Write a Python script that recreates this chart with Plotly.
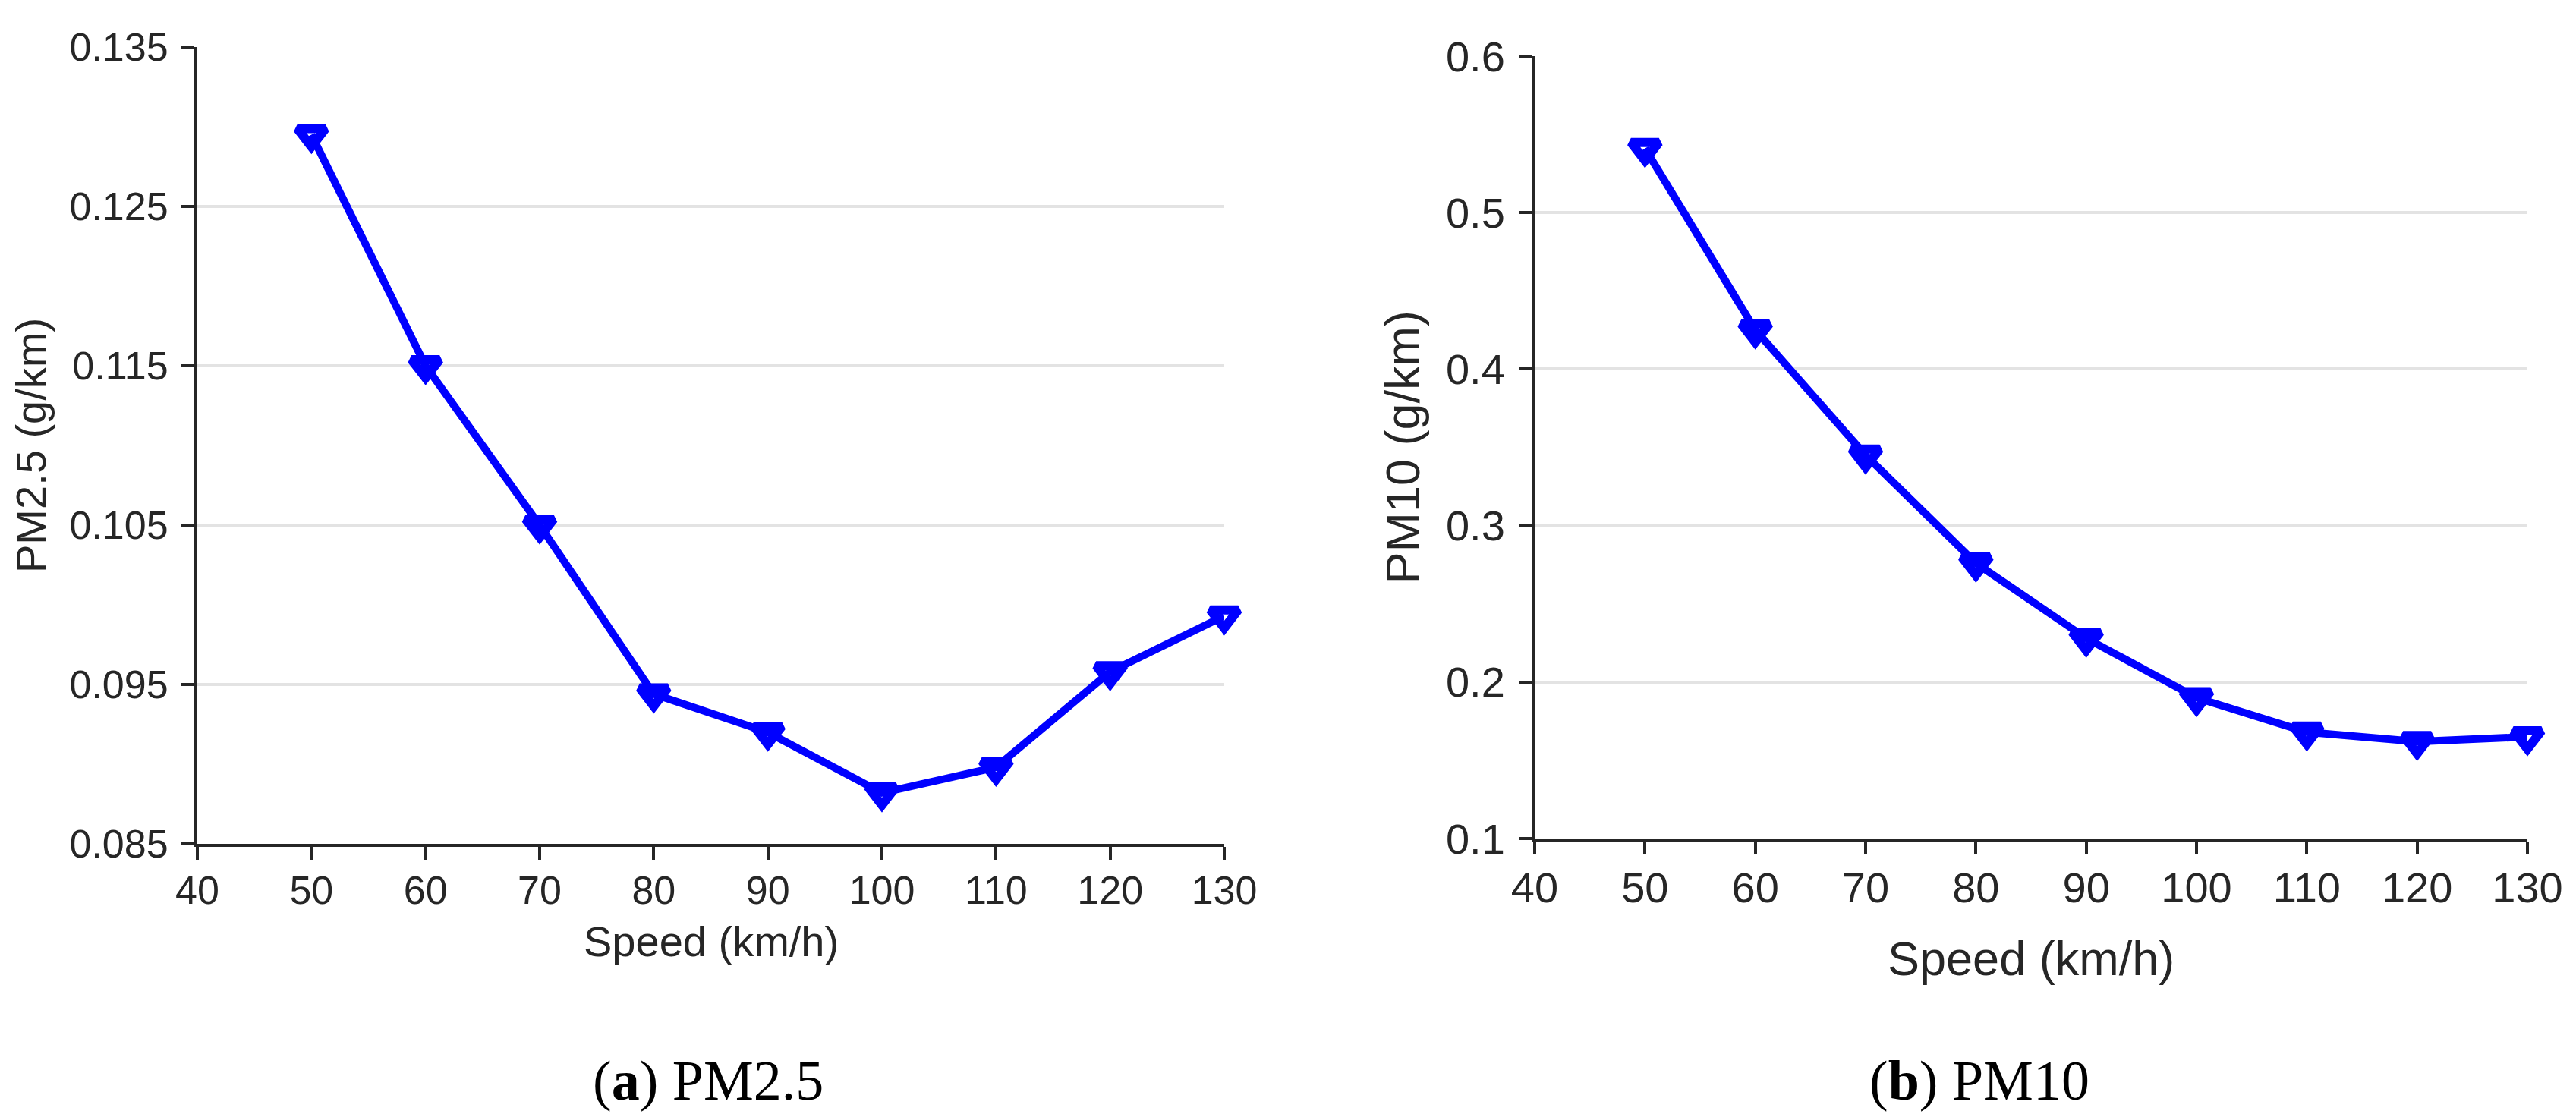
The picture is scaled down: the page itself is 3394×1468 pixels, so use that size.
import plotly.graph_objects as go

speed = [50, 60, 70, 80, 90, 100, 110, 120, 130]
pm25 = [0.1295, 0.1150, 0.1050, 0.0944, 0.0920, 0.0882, 0.0898, 0.0958, 0.0993]
pm10 = [0.541, 0.425, 0.345, 0.276, 0.228, 0.190, 0.168, 0.162, 0.165]

x_ticks = [40, 50, 60, 70, 80, 90, 100, 110, 120, 130]
pm25_ticks = [0.085, 0.095, 0.105, 0.115, 0.125, 0.135]
pm10_ticks = [0.1, 0.2, 0.3, 0.4, 0.5, 0.6]

W, H = 3394, 1468
BLUE = "#0000ff"
AX = "#262626"
GRID = "#e3e3e3"
FONT = "Liberation Sans, Arial, sans-serif"
SERIF = "Liberation Serif, Times New Roman, serif"

# panel boxes in pixels (left, top, right, bottom)
pa = (252, 54, 1605, 1104)
pb = (2014, 66, 3322, 1097)

def dom(p):
    return [p[0] / W, p[2] / W], [1 - p[3] / H, 1 - p[1] / H]

fig = go.Figure()
for vals, xa, ya in [(pm25, "x", "y"), (pm10, "x2", "y2")]:
    fig.add_trace(go.Scatter(
        x=speed, y=vals, xaxis=xa, yaxis=ya, mode="lines+markers",
        line=dict(color=BLUE, width=10),
        marker=dict(symbol="triangle-down-open", size=32, color=BLUE,
                    line=dict(color=BLUE, width=12)),
        showlegend=False, cliponaxis=False))

def xaxis(p, fs, anchor):
    d, _ = dom(p)
    return dict(domain=d, range=[40, 130], tickvals=x_ticks, showgrid=False,
                zeroline=False, showline=True, linecolor=AX, linewidth=4,
                ticks="outside", ticklen=17, tickwidth=4, tickcolor=AX,
                automargin=False, anchor=anchor,
                tickfont=dict(family=FONT, size=fs, color=AX), ticklabelstandoff=-4)

def yaxis(p, fs, ticks, fmt, anchor):
    _, d = dom(p)
    return dict(domain=d, range=[ticks[0], ticks[-1]], tickvals=ticks,
                ticktext=[fmt.format(t) for t in ticks], showgrid=True,
                gridcolor=GRID, gridwidth=4, zeroline=False, showline=True,
                linecolor=AX, linewidth=4, ticks="outside", ticklen=17,
                tickwidth=4, tickcolor=AX, anchor=anchor, automargin=False,
                tickfont=dict(family=FONT, size=fs, color=AX), ticklabelstandoff=7)

fig.update_layout(
    width=W, height=H, margin=dict(l=0, r=0, t=0, b=0, pad=0),
    paper_bgcolor="white", plot_bgcolor="white",
    xaxis=xaxis(pa, 52, "y"),
    yaxis=yaxis(pa, 52, pm25_ticks, "{:.3f}", "x"),
    xaxis2=xaxis(pb, 56, "y2"),
    yaxis2=yaxis(pb, 56, pm10_ticks, "{:.1f}", "x2"),
)

def ann(text, x, y, size, family=FONT, angle=0, color=AX):
    fig.add_annotation(text=text, x=x / W, y=1 - y / H, xref="paper", yref="paper",
                       showarrow=False, xanchor="center", yanchor="middle",
                       textangle=angle, font=dict(family=family, size=size, color=color))

ann("Speed (km/h)", (pa[0] + pa[2]) / 2, 1232, 56)
ann("Speed (km/h)", (pb[0] + pb[2]) / 2, 1255, 63)
ann("PM2.5 (g/km)", 32, (pa[1] + pa[3]) / 2, 56, angle=-90)
ann("PM10 (g/km)", 1840, (pb[1] + pb[3]) / 2, 63, angle=-90)
ann("(<b>a</b>) PM2.5", 925, 1416, 74, family=SERIF, color="black")
ann("(<b>b</b>) PM10", 2600, 1416, 74, family=SERIF, color="black")

fig.write_html("out.html")
